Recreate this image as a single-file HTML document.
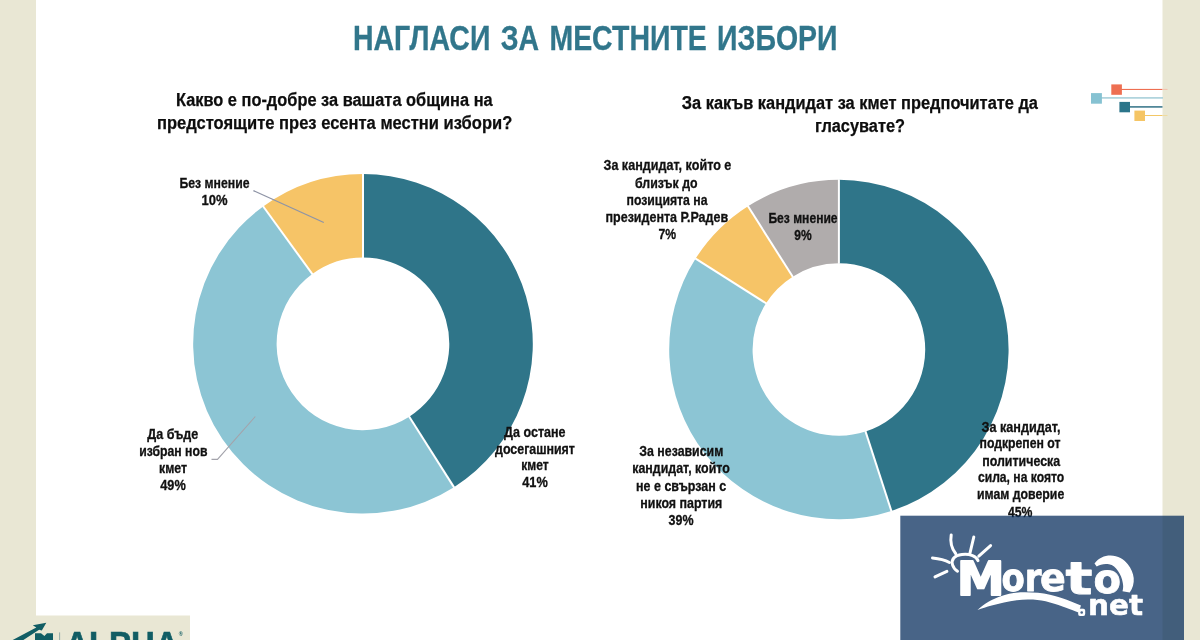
<!DOCTYPE html>
<html lang="bg"><head><meta charset="utf-8"><title>Нагласи за местните избори</title>
<style>
html,body{margin:0;padding:0;background:#fff;}
body{width:1200px;height:640px;overflow:hidden;position:relative;font-family:"Liberation Sans",sans-serif;}
svg{position:absolute;left:0;top:0;display:block}
text{font-family:"Liberation Sans",sans-serif;font-weight:bold;text-anchor:middle;fill:#111}
text.lb{stroke:#111;stroke-width:.3px}
text.ti{fill:#31768b;stroke:#31768b;stroke-width:.3px;word-spacing:2.9px}
text.st{fill:#0d0d0d;stroke:#0d0d0d;stroke-width:.25px}
text.lg{font-family:"DejaVu Sans","Liberation Sans",sans-serif;fill:#fff;stroke:#fff;stroke-linejoin:round;text-anchor:start}
</style></head><body>
<svg width="1200" height="640" viewBox="0 0 1200 640">
<rect width="1200" height="640" fill="#fff"/>
<!-- side bands -->
<rect x="0" y="0" width="36" height="640" fill="#e9e7d4"/>
<rect x="1162.5" y="0" width="37.5" height="640" fill="#e9e7d4"/>
<rect x="0" y="615.5" width="190" height="24.5" fill="#e9e7d4"/>
<!-- decorative markers -->
<g>
<rect x="1121" y="88.9" width="41.5" height="1.1" fill="#ee6f52"/><rect x="1162.5" y="88.9" width="5" height="1.1" fill="#f2c4b0"/>
<rect x="1101" y="97.1" width="62" height="1.6" fill="#a9d0da"/>
<rect x="1129" y="106.1" width="33.5" height="1.6" fill="#3f7b8e"/>
<rect x="1144" y="115" width="18.5" height="1" fill="#f3c766"/><rect x="1162.5" y="115" width="5" height="1" fill="#efdca0"/>
<rect x="1111.3" y="84.4" width="10.6" height="10.4" fill="#ee6f52"/>
<rect x="1091" y="93.1" width="10.9" height="10.6" fill="#86c2d2"/>
<rect x="1119.4" y="101.9" width="10.6" height="10.4" fill="#2b758a"/>
<rect x="1134.4" y="110.6" width="10.6" height="10.4" fill="#f5c565"/>
</g>
<!-- donuts -->
<path d="M363.00 174.00A169.8 169.8 0 0 1 453.98 487.17L409.24 416.67A86.3 86.3 0 0 0 363.00 257.50Z" fill="#2f7589"/>
<path d="M453.98 487.17A169.8 169.8 0 0 1 263.19 206.43L312.27 273.98A86.3 86.3 0 0 0 409.24 416.67Z" fill="#8cc5d4"/>
<path d="M263.19 206.43A169.8 169.8 0 0 1 363.00 174.00L363.00 257.50A86.3 86.3 0 0 0 312.27 273.98Z" fill="#f6c467"/>
<line x1="363.00" y1="173.50" x2="363.00" y2="258.00" stroke="#fff" stroke-width="2"/>
<line x1="454.25" y1="487.59" x2="408.97" y2="416.24" stroke="#fff" stroke-width="2"/>
<line x1="262.90" y1="206.02" x2="312.57" y2="274.39" stroke="#fff" stroke-width="2"/>
<path d="M838.90 179.80A169.7 169.7 0 0 1 891.34 510.89L865.57 431.58A86.3 86.3 0 0 0 838.90 263.20Z" fill="#2f7589"/>
<path d="M891.34 510.89A169.7 169.7 0 0 1 695.62 258.57L766.03 303.26A86.3 86.3 0 0 0 865.57 431.58Z" fill="#8cc5d4"/>
<path d="M695.62 258.57A169.7 169.7 0 0 1 747.97 206.22L792.66 276.63A86.3 86.3 0 0 0 766.03 303.26Z" fill="#f6c467"/>
<path d="M747.97 206.22A169.7 169.7 0 0 1 838.90 179.80L838.90 263.20A86.3 86.3 0 0 0 792.66 276.63Z" fill="#b0acac"/>
<line x1="838.90" y1="179.30" x2="838.90" y2="263.70" stroke="#fff" stroke-width="2"/>
<line x1="891.49" y1="511.37" x2="865.41" y2="431.10" stroke="#fff" stroke-width="2"/>
<line x1="695.20" y1="258.30" x2="766.46" y2="303.53" stroke="#fff" stroke-width="2"/>
<line x1="747.70" y1="205.80" x2="792.93" y2="277.06" stroke="#fff" stroke-width="2"/>
<!-- leader lines -->
<polyline points="253.4,190.6 323.8,222.5" fill="none" stroke="#8e94a6" stroke-width="1.2"/>
<polyline points="211.5,459.4 217.5,459.4 255.3,416.5" fill="none" stroke="#a3a3ab" stroke-width="1.1"/>
<text class="ti" x="595.25" y="50" font-size="34.8" textLength="484.6" lengthAdjust="spacingAndGlyphs">НАГЛАСИ ЗА МЕСТНИТЕ ИЗБОРИ</text>
<text class="st" x="334.3" y="105.8" font-size="17.5" textLength="316.7" lengthAdjust="spacingAndGlyphs">Какво е по-добре за вашата община на</text>
<text class="st" x="334.6" y="129.2" font-size="17.5" textLength="355.3" lengthAdjust="spacingAndGlyphs">предстоящите през есента местни избори?</text>
<text class="st" x="859.9" y="109" font-size="17.5" textLength="356.2" lengthAdjust="spacingAndGlyphs">За какъв кандидат за кмет предпочитате да</text>
<text class="st" x="860" y="131.6" font-size="17.5" textLength="90" lengthAdjust="spacingAndGlyphs">гласувате?</text>
<text class="lb" x="214.5" y="188" font-size="14" textLength="70.0" lengthAdjust="spacingAndGlyphs">Без мнение</text>
<text class="lb" x="214.5" y="204.5" font-size="14" textLength="26.0" lengthAdjust="spacingAndGlyphs">10%</text>
<text class="lb" x="172.8" y="439" font-size="14" textLength="51.0" lengthAdjust="spacingAndGlyphs">Да бъде</text>
<text class="lb" x="173.3" y="456" font-size="14" textLength="68.3" lengthAdjust="spacingAndGlyphs">избран нов</text>
<text class="lb" x="173" y="473" font-size="14" textLength="28.1" lengthAdjust="spacingAndGlyphs">кмет</text>
<text class="lb" x="173" y="490" font-size="14" textLength="25.5" lengthAdjust="spacingAndGlyphs">49%</text>
<text class="lb" x="534.8" y="436.6" font-size="14" textLength="61.4" lengthAdjust="spacingAndGlyphs">Да остане</text>
<text class="lb" x="535" y="453.5" font-size="14" textLength="79.8" lengthAdjust="spacingAndGlyphs">досегашният</text>
<text class="lb" x="535" y="470.4" font-size="14" textLength="27.5" lengthAdjust="spacingAndGlyphs">кмет</text>
<text class="lb" x="535" y="487.2" font-size="14" textLength="25.5" lengthAdjust="spacingAndGlyphs">41%</text>
<text class="lb" x="667.4" y="170.3" font-size="14" textLength="127.8" lengthAdjust="spacingAndGlyphs">За кандидат, който е</text>
<text class="lb" x="666.3" y="187.5" font-size="14" textLength="62.5" lengthAdjust="spacingAndGlyphs">близък до</text>
<text class="lb" x="667" y="204.6" font-size="14" textLength="81.0" lengthAdjust="spacingAndGlyphs">позицията на</text>
<text class="lb" x="666.8" y="221.8" font-size="14" textLength="122.6" lengthAdjust="spacingAndGlyphs">президента Р.Радев</text>
<text class="lb" x="667.3" y="238.6" font-size="14" textLength="17.6" lengthAdjust="spacingAndGlyphs">7%</text>
<text class="lb" x="803" y="223.4" font-size="14" textLength="69.2" lengthAdjust="spacingAndGlyphs">Без мнение</text>
<text class="lb" x="803" y="240" font-size="14" textLength="17.4" lengthAdjust="spacingAndGlyphs">9%</text>
<text class="lb" x="681.3" y="456" font-size="14" textLength="84.0" lengthAdjust="spacingAndGlyphs">За независим</text>
<text class="lb" x="681" y="473" font-size="14" textLength="97.5" lengthAdjust="spacingAndGlyphs">кандидат, който</text>
<text class="lb" x="681.1" y="491" font-size="14" textLength="90.0" lengthAdjust="spacingAndGlyphs">не е свързан с</text>
<text class="lb" x="681.3" y="508" font-size="14" textLength="82.0" lengthAdjust="spacingAndGlyphs">никоя партия</text>
<text class="lb" x="681" y="524.6" font-size="14" textLength="25.0" lengthAdjust="spacingAndGlyphs">39%</text>
<text class="lb" x="1021" y="431.6" font-size="14" textLength="79.0" lengthAdjust="spacingAndGlyphs">За кандидат,</text>
<text class="lb" x="1020" y="447.6" font-size="14" textLength="81.0" lengthAdjust="spacingAndGlyphs">подкрепен от</text>
<text class="lb" x="1021.2" y="465.6" font-size="14" textLength="78.0" lengthAdjust="spacingAndGlyphs">политическа</text>
<text class="lb" x="1021.1" y="482.2" font-size="14" textLength="86.3" lengthAdjust="spacingAndGlyphs">сила, на която</text>
<text class="lb" x="1020.6" y="499.1" font-size="14" textLength="87.3" lengthAdjust="spacingAndGlyphs">имам доверие</text>
<text class="lb" x="1020.2" y="516.7" font-size="14" textLength="24.5" lengthAdjust="spacingAndGlyphs">45%</text>
<!-- alpha logo -->
<g fill="#115d64">
<path d="M46.3 622.8 L32.8 625.3 L36.3 627.6 L10 641.4 L21.2 641.4 L39.1 629.8 L41.8 630.6 Z"/>
<path d="M35 640.5V633.2h6l3.4 2.9 2.6-2.900h6V640.500z"/>
<rect x="59.2" y="632.4" width="0.9" height="8" fill="#8aa5a2"/>
<text x="65.2" y="655.8" font-size="35" textLength="113.5" lengthAdjust="spacingAndGlyphs" style="text-anchor:start;fill:#115d64;stroke:#115d64;stroke-width:.7px">ALPHA</text>
<text x="178.8" y="635.6" font-size="5.5" style="text-anchor:start;fill:#115d64">®</text>
</g>
<!-- moreto logo -->
<rect x="900.3" y="515.7" width="283.7" height="124.3" fill="rgb(4,43,91)" fill-opacity="0.73"/>
<g fill="none" stroke="#fff" stroke-width="3" stroke-linecap="round">
<path d="M957.5 571.2 C952.5 568 950.5 562 953.8 558 C957 554.5 966 553.2 972.5 555.6 C975.5 556.8 977.2 558.5 978 560.6"/>
<path d="M951.2 535 C950 542 952 549 955.8 553.8"/>
<path d="M973.8 537 L970 553"/>
<path d="M990.6 545.6 L978.8 556.2"/>
<path d="M932.5 558 C939 558.6 945 560 949.4 562.5"/>
<path d="M935 576.9 L946.9 571.3"/>
</g>
<text class="lg" stroke-width="0.8"><tspan x="956.8" y="594.8" font-size="47" stroke-width="1.8" textLength="48" lengthAdjust="spacingAndGlyphs">M</tspan><tspan x="1001.5" y="590.5" font-size="38" textLength="40" lengthAdjust="spacingAndGlyphs">or</tspan><tspan x="1040" y="591.3" font-size="38">e</tspan><tspan x="1065.5" y="594" font-size="45" textLength="27" lengthAdjust="spacingAndGlyphs">t</tspan><tspan x="1093.5" y="593" font-size="40">o</tspan></text>
<path d="M977.5 610 C985 603 993 599 1000 596.5 C1009 593.4 1017 592.3 1025 592.3 C1034 592.3 1042 593 1050 594.8 C1057 596.4 1062 598 1066.7 599.8 L1081 605.6 L1078.5 612.5 C1074 610.8 1070 609.3 1066.7 608 C1061 605.8 1056 604 1050 602.5 C1044 601 1039 600 1033 599.6 C1027 599.3 1022 599.5 1016.7 600.2 C1008 601.3 1000 603.2 991.7 605.6 C986.5 607.1 982 608.6 977.5 610 Z" fill="#fff"/>
<path d="M1094.5 563.5 C1099 558 1104 555.6 1110.5 555.6 C1118 555.6 1124 559.3 1127.800 564.3 C1131.200 568.5 1133.200 573.5 1133.700 578 C1134.200 583 1132.700 588.5 1129.700 592.5 L1122.500 591.200 C1123.400 588 1123.300 585.500 1122.800 583 C1122 578 1120.500 574.500 1118 571 C1115.500 567.500 1113 565 1109 564.3 C1104.500 563.500 1100 564.500 1096.700 566.500 Z" fill="#fff"/>
<text class="lg" font-size="29" stroke-width="0.6"><tspan x="1078.3" y="614.1" font-size="18" stroke-width="3.8">.</tspan><tspan x="1088" y="614.8" textLength="55" lengthAdjust="spacingAndGlyphs">net</tspan></text>
<circle cx="1081.700" cy="612.500" r="1.3" fill="#48648a"/>
</svg>
</body></html>
